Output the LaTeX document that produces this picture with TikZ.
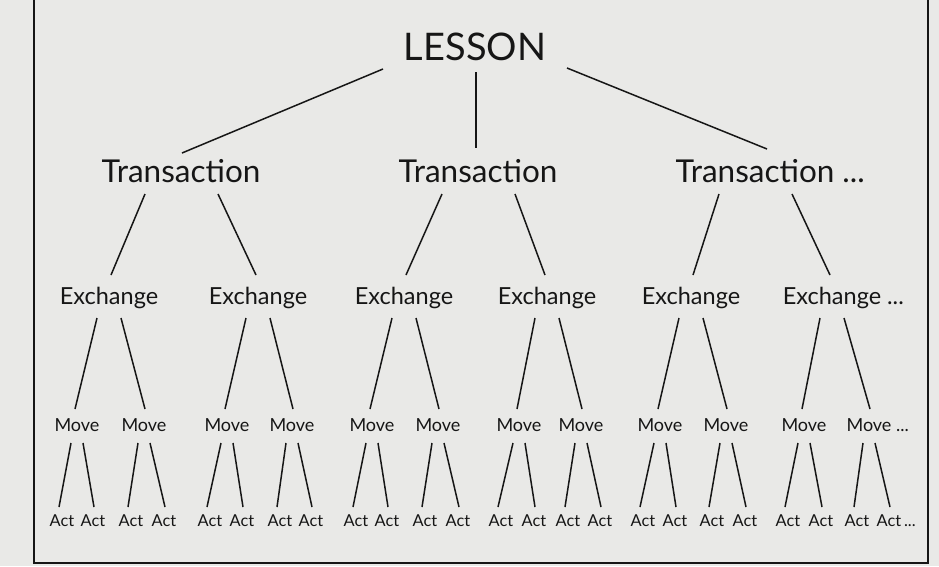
\documentclass[tikz,border=0pt]{standalone}
\usepackage{fontspec}
\setmainfont{Lato}
\usetikzlibrary{calc}
\definecolor{paper}{RGB}{233,233,231}
\definecolor{ink}{RGB}{22,22,22}
\begin{document}
\begin{tikzpicture}[x=1pt,y=-1pt,
  lab/.style={inner sep=0pt,anchor=base,text=ink},
  lessonf/.style={lab,font=\fontsize{38}{40}\selectfont},
  transf/.style={lab,font=\fontsize{31.5}{33}\selectfont},
  exchf/.style={lab,font=\fontsize{23.5}{25}\selectfont},
  movef/.style={lab,font=\fontsize{18}{20}\selectfont},
  actf/.style={lab,font=\fontsize{16.4}{18}\selectfont},
  ln/.style={draw=ink,line width=1.5pt},
  frame/.style={draw=ink,line width=1.8pt}]
\fill[paper] (0,0) rectangle (939,566);
\useasboundingbox (0,0) rectangle (939,566);
% frame (top edge cut off)
\draw[frame] (34,0) -- (34,563) -- (928,563) -- (928,0);
% nodes
\node[lessonf] (L) at (475,60) {LESSON};
\node[transf] (T1) at (181,182) {Transaction};
\node[transf] (T2) at (478,182) {Transaction};
\node[transf] (T3) at (755,182) {Transaction\rlap{ ...}};
\foreach \i/\x in {1/109,2/258,3/404,4/547,5/691}
  \node[exchf] (E\i) at (\x,304) {Exchange};
\node[exchf] (E6) at (832,304) {Exchange\rlap{ ...}};
\foreach \i/\x in {1/77,2/144,3/227,4/292,5/372,6/438,7/519,8/581,9/660,10/726,11/804}
  \node[movef] (M\i) at (\x,431) {Move};
\node[movef] (M12) at (869,431) {Move\rlap{ ...}};
\foreach \i/\x in {1/62,2/93,3/131,4/164,5/210,6/242,7/280,8/311,9/356,10/387,11/425,12/458,13/501,14/534,15/568,16/600,17/643,18/675,19/712,20/745,21/788,22/821,23/857}
  \node[actf] (A\i) at (\x,526) {Act};
\node[actf] (A24) at (889,526) {Act\rlap{\,...}};
% connectors
\draw[ln] ($(L.base)+(-92,9)$) -- ($(T1.base)+(1,-29)$);
\draw[ln] ($(L.base)+(1,12)$) -- ($(T2.base)+(-2,-34)$);
\draw[ln] ($(L.base)+(92,8)$) -- ($(T3.base)+(12,-33)$);
\foreach \p in {1,2,3}{
  \pgfmathtruncatemacro\ka{2*\p-1}
  \pgfmathtruncatemacro\kb{2*\p}
  \draw[ln] ($(T\p.base)+(-36,12)$) -- ($(E\ka.base)+(2,-29)$);
  \draw[ln] ($(T\p.base)+(37,12)$) -- ($(E\kb.base)+(-2,-29)$);
}
\foreach \p in {1,...,6}{
  \pgfmathtruncatemacro\ka{2*\p-1}
  \pgfmathtruncatemacro\kb{2*\p}
  \draw[ln] ($(E\p.base)+(-12,14)$) -- ($(M\ka.base)+(-2,-22)$);
  \draw[ln] ($(E\p.base)+(12,14)$) -- ($(M\kb.base)+(1,-22)$);
}
\foreach \p in {1,...,12}{
  \pgfmathtruncatemacro\ka{2*\p-1}
  \pgfmathtruncatemacro\kb{2*\p}
  \draw[ln] ($(M\p.base)+(-6,12)$) -- ($(A\ka.base)+(-3,-19)$);
  \draw[ln] ($(M\p.base)+(6,12)$) -- ($(A\kb.base)+(1,-19)$);
}
\end{tikzpicture}
\end{document}
